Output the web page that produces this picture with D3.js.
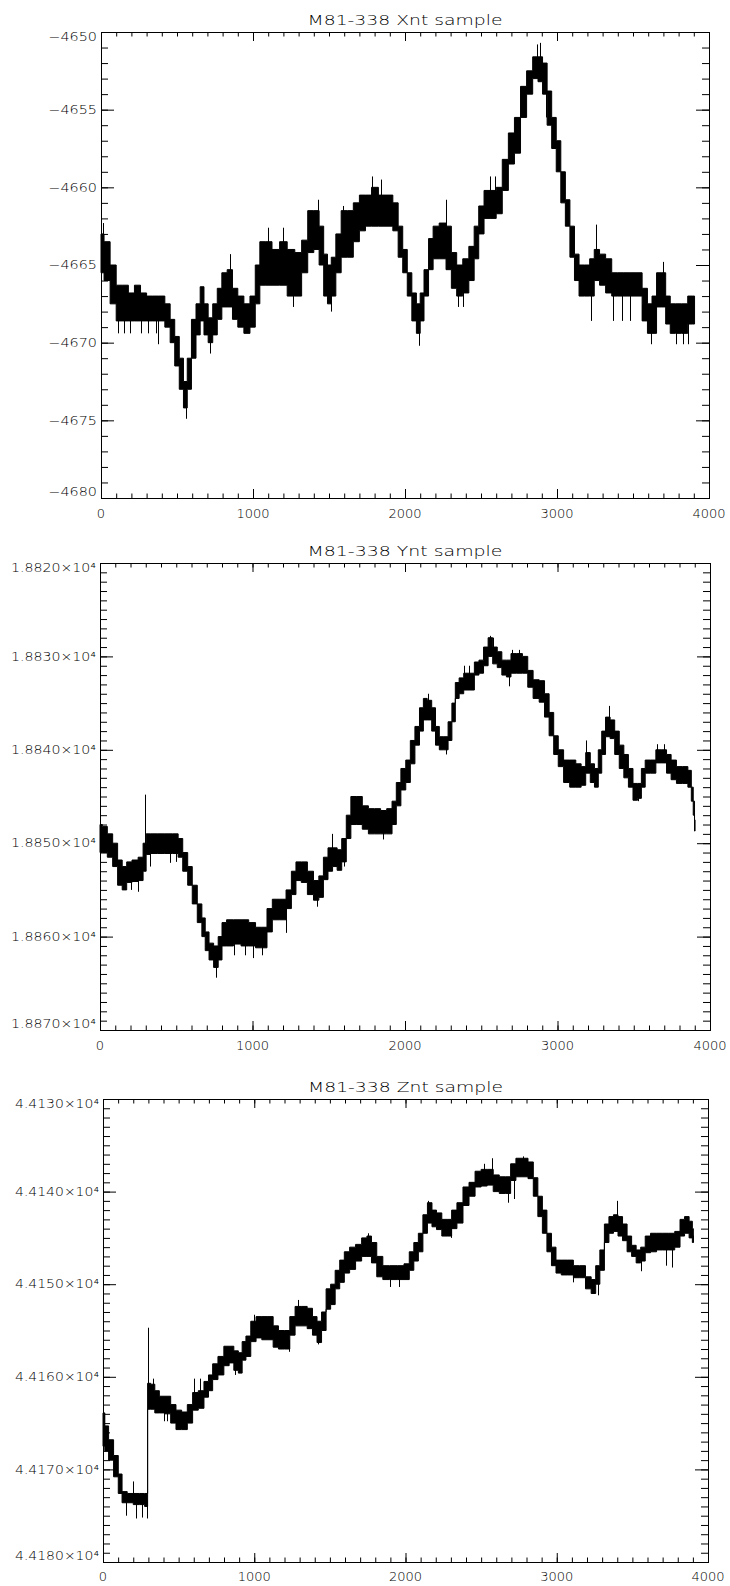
<!DOCTYPE html>
<html><head><meta charset="utf-8">
<script src="https://cdn.jsdelivr.net/npm/d3@7"></script>
<style>html,body{margin:0;padding:0;background:#fff;}svg{display:block}</style>
</head><body>
<svg id="c" width="730" height="1586"></svg>
<script>
// ---------------- data ----------------
const titles = ["M81-338 Xnt sample", "M81-338 Ynt sample", "M81-338 Znt sample"];
const xTickValues = [0, 1000, 2000, 3000, 4000];
const xTickLabels = ["0", "1000", "2000", "3000", "4000"];

const yTickValuesX = [-4650, -4655, -4660, -4665, -4670, -4675, -4680];
const yTickLabelsX = ["\u22124650", "\u22124655", "\u22124660", "\u22124665", "\u22124670", "\u22124675", "\u22124680"];
const yTickValuesY = [18820, 18830, 18840, 18850, 18860, 18870];
const yTickLabelsY = ["1.8820\u00d710\u2074", "1.8830\u00d710\u2074", "1.8840\u00d710\u2074", "1.8850\u00d710\u2074", "1.8860\u00d710\u2074", "1.8870\u00d710\u2074"];
const yTickValuesZ = [44130, 44140, 44150, 44160, 44170, 44180];
const yTickLabelsZ = ["4.4130\u00d710\u2074", "4.4140\u00d710\u2074", "4.4150\u00d710\u2074", "4.4160\u00d710\u2074", "4.4170\u00d710\u2074", "4.4180\u00d710\u2074"];

// band of the dense sample trace: [sample, value edge 1, value edge 2]
const bandX = [
[0,-4665.5,-4663],[40,-4666,-4663.5],[80,-4667.5,-4665],[120,-4668.6,-4666.3],[160,-4668.6,-4666.3],
[200,-4668.6,-4666.8],[240,-4668.6,-4666.3],[280,-4668.6,-4666.8],[320,-4668.6,-4667],[360,-4668.6,-4667],
[400,-4668.6,-4667],[440,-4669,-4667.5],[470,-4670,-4668.5],[500,-4671.5,-4669.6],[530,-4673,-4671],
[555,-4674.2,-4672.5],[580,-4673,-4671],[610,-4671,-4668.5],[640,-4669.5,-4667.5],[665,-4668.6,-4666.4],
[690,-4669.5,-4667.5],[720,-4670,-4668.4],[750,-4669.5,-4667.5],[780,-4668.5,-4666.5],[810,-4667.7,-4665.5],
[850,-4667.7,-4665.3],[880,-4668.5,-4666.5],[920,-4669,-4667],[960,-4669.4,-4667.5],[1000,-4669,-4667],
[1030,-4667.5,-4665],[1060,-4666.3,-4663.5],[1100,-4666.3,-4663.5],[1150,-4666.3,-4664],[1200,-4666.3,-4663.5],
[1250,-4667,-4664],[1300,-4667,-4664.2],[1340,-4665.5,-4663.4],[1380,-4664.2,-4661.5],[1420,-4664,-4661.5],
[1450,-4665,-4662.5],[1480,-4667,-4664.3],[1500,-4667.5,-4665],[1530,-4667,-4664.5],[1560,-4665.5,-4663],
[1600,-4664.5,-4661.5],[1640,-4664.5,-4661.5],[1680,-4663.5,-4661],[1720,-4662.8,-4660.5],[1760,-4662.5,-4660.5],
[1800,-4662.5,-4660],[1850,-4662.5,-4660.5],[1900,-4662.5,-4660.5],[1940,-4662.8,-4661],[1970,-4664.5,-4662.5],
[2000,-4665.5,-4664],[2030,-4667,-4665.5],[2060,-4668.6,-4666.8],[2090,-4669.4,-4667.5],[2110,-4668.6,-4666.8],
[2140,-4667,-4665.3],[2170,-4665.3,-4663.3],[2200,-4664.6,-4662.5],[2250,-4664.6,-4662.3],[2290,-4665.3,-4662.5],
[2320,-4666.5,-4664.2],[2360,-4667,-4665],[2400,-4666.8,-4664.6],[2440,-4666,-4663.8],[2470,-4664.6,-4662.5],
[2500,-4663,-4661.2],[2540,-4662,-4660.2],[2580,-4662,-4660.2],[2620,-4661.7,-4660],[2660,-4660.2,-4658.2],
[2700,-4658.5,-4656.5],[2740,-4657.8,-4655.5],[2780,-4655.5,-4653.5],[2820,-4654,-4652.5],[2860,-4653,-4651.6],
[2890,-4653.2,-4651.6],[2920,-4654,-4652],[2950,-4656,-4653.8],[2980,-4657.5,-4655.5],[3010,-4659,-4657],
[3040,-4661,-4659],[3070,-4662.5,-4660.8],[3100,-4664.5,-4662.5],[3130,-4666,-4664.3],[3160,-4667,-4665],
[3200,-4667,-4665],[3230,-4667,-4664.6],[3260,-4666,-4664],[3300,-4666.3,-4664.3],[3340,-4666.8,-4664.6],
[3380,-4667,-4665.5],[3420,-4667,-4665.5],[3460,-4667,-4665.5],[3500,-4667,-4665.5],[3540,-4667,-4665.5],
[3580,-4668.6,-4666.5],[3610,-4669.4,-4667.5],[3640,-4669.4,-4667],[3670,-4667.7,-4665.5],[3700,-4667.7,-4665.5],
[3730,-4668.8,-4667],[3760,-4669.4,-4667.5],[3800,-4669.4,-4667.5],[3840,-4669.4,-4667.5],[3880,-4668.8,-4667],
[3905,-4668.8,-4667]
];
const spikesX = [
[15,-4662.3],[110,-4669.4],[150,-4669.4],[190,-4669.4],[260,-4669.4],[310,-4669.4],[365,-4669.4],[372,-4670.1],
[557,-4674.9],[720,-4670.7],[850,-4664.3],[1100,-4662.6],[1200,-4662.6],[1260,-4667.7],[1425,-4660.8],
[1510,-4668],[1590,-4661.2],[1780,-4659.3],[1840,-4659.5],[2090,-4670.2],[2270,-4660.8],[2350,-4667.7],
[2380,-4667.7],[2560,-4659.3],[2590,-4659.3],[2870,-4650.8],[2885,-4650.7],[2930,-4655.5],[3225,-4668.6],
[3255,-4662.4],[3370,-4668.6],[3430,-4668.6],[3480,-4668.6],[3560,-4668.6],[3620,-4670.1],[3700,-4664.8],
[3780,-4670.1],[3830,-4670.1],[3860,-4670.1]
];

const bandY = [
[0,18848,18851],[30,18848.2,18851],[66,18849,18851.5],[100,18850,18852.5],[131,18851.8,18854.5],
[160,18852.5,18855],[190,18852,18854.2],[230,18851.8,18854.1],[270,18851.5,18854],[295,18850,18853],
[310,18849,18851.2],[350,18849,18851.1],[400,18849,18851.1],[450,18849,18851.1],[500,18849,18851.1],
[525,18849.5,18851.5],[560,18851,18853],[590,18852.5,18854.5],[620,18854.5,18856.5],[656,18856.5,18858.5],
[680,18858,18860],[700,18859.5,18861.5],[730,18860.7,18862.5],[760,18861,18863.3],[790,18860,18862.5],
[810,18858.5,18861],[850,18858.2,18861],[900,18858.2,18860.8],[950,18858.2,18861],[1000,18858.5,18861],
[1040,18859,18861.2],[1080,18859,18861.2],[1110,18857,18859.5],[1150,18856,18858.2],[1200,18856,18858.2],
[1240,18855,18857],[1270,18853,18855.5],[1300,18852,18854],[1340,18852,18854.2],[1380,18853,18855.5],
[1420,18854,18856.1],[1450,18853.5,18855.8],[1480,18851.5,18853.9],[1510,18850.5,18853],[1540,18850.5,18852.5],
[1570,18850.7,18852.9],[1600,18849.5,18852],[1630,18847,18849.5],[1660,18845,18848],[1700,18845,18848],
[1740,18846,18848.5],[1780,18846.3,18849],[1820,18846.3,18849],[1860,18846.5,18849],[1900,18846.3,18849],
[1930,18845.5,18848],[1956,18843.5,18846],[1990,18842,18844.3],[2020,18841.1,18843.5],[2050,18839,18841.5],
[2080,18837.5,18839.5],[2110,18835.5,18838],[2131,18834.5,18836.8],[2160,18834.7,18836.8],[2190,18835.5,18838],
[2210,18837.5,18839.5],[2240,18838.6,18840],[2270,18838.6,18840],[2295,18837,18839],[2320,18835,18837],
[2340,18832.8,18834.5],[2370,18832.3,18834],[2400,18831.8,18833.6],[2440,18831.8,18833.6],[2470,18830.6,18832],
[2500,18830.4,18831.8],[2530,18829,18831],[2560,18828,18830],[2590,18829,18830.8],[2620,18829.5,18831.2],
[2650,18830.4,18832],[2680,18830.4,18832.2],[2710,18829.7,18831.8],[2750,18829.7,18831.8],[2790,18830,18831.8],
[2820,18831.5,18833.3],[2860,18832.5,18834.5],[2900,18832.6,18834.9],[2930,18834,18836.5],[2960,18836,18838.5],
[2990,18838.5,18840.5],[3020,18840,18841.8],[3060,18841.1,18843.5],[3100,18841.1,18844],[3140,18841.5,18844],
[3170,18841.8,18843.8],[3200,18840.3,18842.5],[3230,18841.5,18843.5],[3255,18842,18844],[3280,18840,18842.5],
[3300,18838,18840.5],[3330,18836.5,18838.6],[3360,18836.8,18838.8],[3390,18838,18840.5],[3420,18839.5,18842],
[3450,18840.5,18843],[3480,18842,18844],[3510,18843.6,18845.4],[3540,18843.6,18845.2],[3560,18842,18844],
[3590,18841.1,18842.5],[3630,18841.1,18842.5],[3660,18840,18841.4],[3700,18840,18841.4],[3730,18840.5,18842.5],
[3760,18841.1,18843.2],[3800,18841.8,18843.6],[3840,18841.8,18843.6],[3870,18842.2,18844],[3885,18844,18845.5],
[3895,18845.5,18847],[3902,18847.5,18848.7]
];
const spikesY = [
[297,18844.8],[150,18855],[200,18855],[250,18855.2],[330,18852.5],[460,18852.1],[500,18852],[763,18864.4],
[880,18862],[950,18862],[1000,18862.3],[1060,18862],[1220,18859.6],[1420,18856.8],[1520,18849],[1600,18852.5],
[1858,18849.6],[2150,18834],[2270,18840.5],[2390,18831],[2420,18831],[2560,18827.8],[2580,18828],[2680,18833.2],
[2700,18829.3],[2750,18829.3],[2900,18834.5],[3190,18839],[3340,18835.3],[3530,18845.5],[3650,18839.4],
[3700,18839.4],[3790,18843.5]
];

const bandZ = [
[0,44163.9,44167.5],[24,44165.3,44168],[50,44166.8,44169],[90,44168.5,44170.8],[112,44170.5,44172.6],
[140,44172.4,44173.6],[180,44172.6,44173.6],[220,44172.6,44173.8],[260,44172.6,44173.8],[290,44172.6,44174],
[300,44160.7,44163.5],[330,44160.8,44163.5],[355,44161.5,44163.9],[390,44162.1,44163.9],[430,44162.1,44164],
[465,44163,44165],[500,44163.6,44165.7],[540,44163.8,44165.7],[575,44163,44165],[610,44161.7,44163.6],
[650,44161.5,44163.4],[685,44160.5,44162.2],[710,44159.8,44161.5],[740,44158.6,44160.3],[780,44157.8,44159.8],
[818,44156.7,44158.8],[850,44156.7,44158.5],[880,44157.2,44159.3],[910,44157.4,44159.6],[930,44156.2,44158.2],
[960,44155.6,44157.8],[994,44154,44156.2],[1030,44153.5,44155.8],[1070,44153.5,44156],[1110,44153.5,44156],
[1140,44154.5,44156.8],[1180,44155,44157],[1220,44155,44157],[1250,44153.5,44155.5],[1290,44152.4,44154.5],
[1330,44152.4,44154.5],[1370,44152.6,44154.8],[1400,44153.5,44155.5],[1430,44154,44156.3],[1460,44153,44155],
[1490,44150.5,44152.7],[1520,44150,44152.2],[1550,44148.5,44150.5],[1580,44147.4,44149.8],[1611,44146.5,44148.8],
[1650,44146,44148.4],[1690,44145.7,44147.5],[1730,44145,44147],[1760,44144.8,44147],[1790,44145.5,44147.7],
[1830,44147,44149.2],[1870,44148,44149.5],[1920,44148,44149.5],[1970,44148,44149.5],[2010,44147.8,44149.5],
[2040,44146.5,44148.5],[2070,44145.5,44147.5],[2100,44144.5,44146.5],[2130,44142.5,44144.5],[2160,44141.2,44143.4],
[2190,44142,44143.8],[2220,44142.3,44144.1],[2260,44143,44144.8],[2290,44143,44144.8],[2320,44142,44144],
[2360,44141.2,44143.4],[2400,44139.5,44141.5],[2440,44139,44140.5],[2480,44137.8,44139.5],[2520,44137.6,44139.4],
[2560,44137.6,44139.3],[2600,44138.2,44140],[2640,44138.4,44140.2],[2680,44138.4,44140.2],[2710,44137,44138.8],
[2750,44136.4,44138.4],[2790,44136.4,44138.4],[2830,44136.8,44138.6],[2860,44138.5,44140.5],[2890,44140.5,44142.7],
[2920,44142,44144.5],[2950,44144.5,44146.5],[2980,44146,44148],[3010,44147.4,44148.8],[3050,44147.4,44149],
[3090,44147.4,44149],[3130,44148,44149.3],[3170,44148,44149.3],[3210,44149.2,44150.5],[3245,44149.5,44151],
[3270,44148,44150],[3300,44146.3,44148.5],[3330,44143.5,44145.5],[3360,44142.7,44144.5],[3390,44142.5,44144.3],
[3420,44142.7,44144.8],[3450,44143.5,44145.3],[3480,44144.8,44146.5],[3510,44145.8,44147],[3540,44146.3,44147.7],
[3570,44146,44147.5],[3600,44144.8,44146.6],[3640,44144.5,44146.5],[3680,44144.5,44146.3],[3720,44144.5,44146.3],
[3760,44144.5,44146.3],[3800,44144.3,44146],[3830,44143,44144.8],[3860,44142.7,44144.5],[3890,44143.2,44145],
[3903,44144,44145.5]
];
const spikesZ = [
[5,44163.9],[150,44175],[200,44171.3],[220,44175.3],[260,44175.2],[290,44175.3],[297,44154.7],[330,44160.2],
[400,44164.8],[420,44164.8],[600,44160.2],[640,44160.2],[870,44159.8],[1000,44153.3],[1230,44157.3],
[1290,44151.7],[1420,44156.5],[1750,44144.5],[1900,44150.3],[1960,44150.3],[2150,44141],[2300,44145],
[2520,44137],[2570,44136.4],[2680,44141.2],[2720,44140.8],[2780,44136.2],[3110,44149.8],[3270,44151.2],
[3400,44141],[3560,44148.6],[3720,44148],[3760,44148.2],[3900,44145.5]
];

// ---------------- layout ----------------
const FONT = "DejaVu Sans";
const WEIGHT = 300;
const panels = [
  {title: titles[0], band: bandX, spikes: spikesX, yVals: yTickValuesX, yLabs: yTickLabelsX, yTop: -4650, yBot: -4680,
   box: {l: 101, r: 709, t: 32, b: 498}, yLabW: 48.6, xLabOff: 19.5},
  {title: titles[1], band: bandY, spikes: spikesY, yVals: yTickValuesY, yLabs: yTickLabelsY, yTop: 18820, yBot: 18870,
   box: {l: 100, r: 710, t: 563, b: 1030}, yLabW: 85, xLabOff: 20},
  {title: titles[2], band: bandZ, spikes: spikesZ, yVals: yTickValuesZ, yLabs: yTickLabelsZ, yTop: 44130, yBot: 44180,
   box: {l: 103, r: 708, t: 1099, b: 1562}, yLabW: 84, xLabOff: 18.5}
];

const svg = d3.select("#c");

function tickSet(axisFn, scale, vals, size, tx, ty) {
  const g = svg.append("g").attr("transform", `translate(${tx},${ty})`)
    .call(axisFn(scale).tickValues(vals).tickSize(size).tickSizeOuter(0).tickFormat(""));
  g.select(".domain").remove();
  g.selectAll("line").attr("stroke", "#000").attr("stroke-width", 1);
}

panels.forEach(p => {
  const {l, r, t, b} = p.box;
  const x = d3.scaleLinear().domain([0, 4000]).range([l, r]);
  const y = d3.scaleLinear().domain([p.yTop, p.yBot]).range([t, b]);

  // data band
  const area = d3.area()
    .x(d => x(d[0])).y0(d => y(d[1])).y1(d => y(d[2]))
    .curve(d3.curveStep);
  svg.append("path").datum(p.band).attr("d", area)
    .attr("fill", "#000").attr("stroke", "#000").attr("stroke-width", 1);

  // spikes
  const bis = d3.bisector(d => d[0]).center;
  svg.append("g").selectAll("line").data(p.spikes).join("line")
    .attr("x1", d => Math.round(x(d[0])) + 0.5).attr("x2", d => Math.round(x(d[0])) + 0.5)
    .attr("y1", d => y(d[1]))
    .attr("y2", d => { const s = p.band[bis(p.band, d[0])]; return y((s[1] + s[2]) / 2); })
    .attr("stroke", "#000").attr("stroke-width", 1);

  // frame
  svg.append("rect").attr("x", l + 0.5).attr("y", t + 0.5).attr("width", r - l).attr("height", b - t)
    .attr("fill", "none").attr("stroke", "#000").attr("stroke-width", 1);

  // ticks
  const xMinor = d3.range(0, 4001, 100);
  const yLo = Math.min(p.yTop, p.yBot), yHi = Math.max(p.yTop, p.yBot);
  const yMinor = d3.range(yLo, yHi + 0.5, 1);
  tickSet(d3.axisBottom, x, xTickValues, -9, 0, b);
  tickSet(d3.axisBottom, x, xMinor, -4.5, 0, b);
  tickSet(d3.axisTop, x, xTickValues, -9, 0, t);
  tickSet(d3.axisTop, x, xMinor, -4.5, 0, t);
  tickSet(d3.axisLeft, y, p.yVals, -13, l, 0);
  tickSet(d3.axisLeft, y, yMinor, -7, l, 0);
  tickSet(d3.axisRight, y, p.yVals, -13, r, 0);
  tickSet(d3.axisRight, y, yMinor, -7, r, 0);

  // x labels
  svg.append("g").selectAll("text").data(xTickValues).join("text")
    .attr("x", d => x(d)).attr("y", b + p.xLabOff)
    .attr("text-anchor", "middle").attr("font-family", FONT).attr("font-weight", WEIGHT)
    .attr("font-size", 13).attr("fill", "#000")
    .text((d, i) => xTickLabels[i]);

  // y labels
  const fs = 11.5, cap = 0.73 * fs;
  const n = p.yVals.length;
  svg.append("g").selectAll("text").data(p.yVals).join("text")
    .attr("x", l - 4)
    .attr("y", (d, i) => {
      let c = y(d);
      if (i === 0) c += 4.5;
      else if (i === n - 1) c -= 6;
      return c + cap / 2;
    })
    .attr("text-anchor", "end").attr("font-family", FONT).attr("font-weight", WEIGHT)
    .attr("font-size", fs).attr("fill", "#000")
    .attr("textLength", p.yLabW).attr("lengthAdjust", "spacingAndGlyphs")
    .text((d, i) => p.yLabs[i]);

  // title
  svg.append("text").attr("x", (l + r) / 2).attr("y", t - 7)
    .attr("text-anchor", "middle").attr("font-family", FONT).attr("font-weight", WEIGHT)
    .attr("font-size", 14.5).attr("fill", "#000")
    .attr("textLength", 195).attr("lengthAdjust", "spacingAndGlyphs")
    .text(p.title);
});
</script>
</body></html>
